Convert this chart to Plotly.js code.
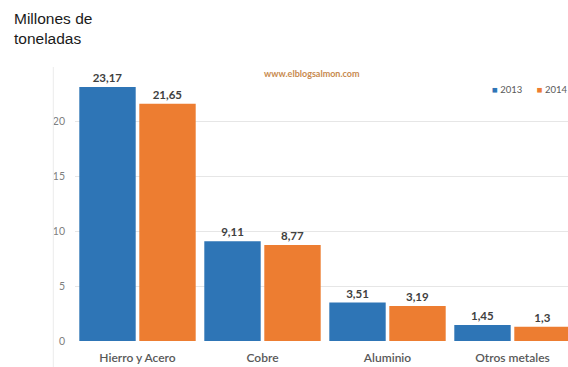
<!DOCTYPE html>
<html>
<head>
<meta charset="utf-8">
<script src="https://cdn.plot.ly/plotly-3.0.1.min.js"></script>
<style>
html,body{margin:0;padding:0;background:#fff;}
#chart{width:568px;height:367px;}
</style>
</head>
<body>
<div id="chart"></div>
<script>
const categories = ["Hierro y Acero", "Cobre", "Aluminio", "Otros metales"];
const values2013 = [23.17, 9.11, 3.51, 1.45];
const values2014 = [21.65, 8.77, 3.19, 1.3];
const seriesNames = ["2013", "2014"];
const seriesColors = ["#2E75B6", "#ED7D31"];
const yTickVals = [0, 5, 10, 15, 20, 25];
const yTickText = ["0", "5", "10", "15", "20", ""];

const fmt = v => String(v).replace(".", ",");
const labelFont = {family: "Lato, 'Open Sans', sans-serif", size: 11.5, color: "#404040", weight: 700};

const traces = [
  {type: "bar", name: seriesNames[0], x: categories, y: values2013,
   marker: {color: seriesColors[0]}, text: values2013.map(fmt), textposition: "outside",
   textfont: labelFont, cliponaxis: false, hoverinfo: "x+y"},
  {type: "bar", name: seriesNames[1], x: categories, y: values2014,
   marker: {color: seriesColors[1]}, text: values2014.map(fmt), textposition: "outside",
   textfont: labelFont, cliponaxis: false, hoverinfo: "x+y"}
];

const legendText = seriesNames.map((n, i) =>
  `<span style="color:${seriesColors[i]}">■</span> ${n}`).join("      ");

const layout = {
  width: 568, height: 367,
  margin: {l: 75, r: 0, t: 67, b: 26, pad: 0},
  paper_bgcolor: "#fff", plot_bgcolor: "#fff",
  barmode: "group", bargap: 0.04, bargroupgap: 0.06,
  font: {family: "Lato, sans-serif", color: "#595959"},
  xaxis: {
    type: "category", range: [-0.5, 3.444], showgrid: false, zeroline: false,
    showline: false, ticks: "", tickfont: {family: "Lato, sans-serif", size: 12, color: "#595959", weight: 600},
    ticklabelstandoff: 8
  },
  yaxis: {
    range: [0, 25], tickvals: yTickVals, ticktext: yTickText,
    showgrid: true, gridcolor: "#e6e6e6", gridwidth: 1, zeroline: false, showline: false,
    ticks: "", tickfont: {family: "Lato, sans-serif", size: 10.5, color: "#808080"},
    ticklabelstandoff: 9
  },
  showlegend: false,
  annotations: [
    {text: "Millones de<br>toneladas", xref: "paper", yref: "paper", x: -0.128, y: 1.215,
     xanchor: "left", yanchor: "top", align: "left", showarrow: false,
     font: {family: "'Liberation Sans', Arial, sans-serif", size: 15.5, color: "#1a1a1a"}},
    {text: "www.elblogsalmon.com", xref: "paper", yref: "paper", x: 0.481, y: 0.975,
     xanchor: "center", yanchor: "middle", showarrow: false,
     font: {family: "Lato, sans-serif", size: 9, color: "#C88A4E", weight: 700}},
    {text: legendText, xref: "paper", yref: "paper", x: 1.005, y: 0.918,
     xanchor: "right", yanchor: "middle", showarrow: false,
     font: {family: "Lato, sans-serif", size: 9.5, color: "#595959"}}
  ],
  shapes: [
    {type: "line", xref: "paper", yref: "paper", x0: -0.044, x1: -0.044, y0: -0.1, y1: 1.0,
     line: {color: "#ececec", width: 1}}
  ]
};

Plotly.newPlot("chart", traces, layout, {displayModeBar: false, staticPlot: true});
</script>
</body>
</html>
